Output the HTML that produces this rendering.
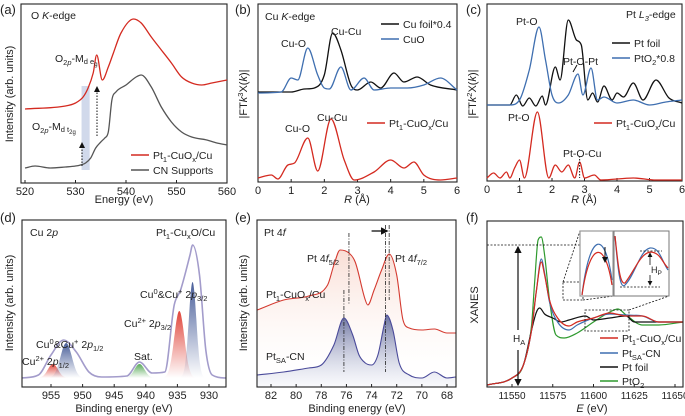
<!DOCTYPE html>
<html><head><meta charset="utf-8"><style>
body{margin:0;background:#fff}
svg{display:block;font-family:"Liberation Sans",sans-serif}
text{fill:#222}
</style></head><body>
<svg id="fig" width="685" height="416" viewBox="0 0 685 416" xmlns="http://www.w3.org/2000/svg">
<defs>
<linearGradient id="gRed" x1="0" y1="0" x2="0" y2="1"><stop offset="0" stop-color="#e0463c"/><stop offset="1" stop-color="#e0463c" stop-opacity="0"/></linearGradient>
<linearGradient id="gBlue" x1="0" y1="0" x2="0" y2="1"><stop offset="0" stop-color="#4a5f9a"/><stop offset="1" stop-color="#4a5f9a" stop-opacity="0"/></linearGradient>
<linearGradient id="gGreen" x1="0" y1="0" x2="0" y2="1"><stop offset="0" stop-color="#5aaa5a"/><stop offset="1" stop-color="#5aaa5a" stop-opacity="0"/></linearGradient>
<linearGradient id="gERed" x1="0" y1="0" x2="0" y2="1"><stop offset="0" stop-color="#f4c2b2" stop-opacity="0.55"/><stop offset="1" stop-color="#fff" stop-opacity="0"/></linearGradient>
<linearGradient id="gEBlue" x1="0" y1="0" x2="0" y2="1"><stop offset="0" stop-color="#3d4a86" stop-opacity="0.9"/><stop offset="1" stop-color="#b8bedb" stop-opacity="0.1"/></linearGradient>
<marker id="arr" markerWidth="6" markerHeight="6" refX="5" refY="3" orient="auto"><path d="M0,0L6,3L0,6z" fill="#111"/></marker>
</defs>
</svg>
<script>
// ---- panel (a) O K-edge ----
const aRedE=[520,528,530,531.5,532.5,533.5,534.2,535.3,536.5,537.5,539,541.5,543,545,547,549,551,553,555,557,560];
const aRedI=[74,77,80,86,95,110,128,103,116,130,150,164,160,146,133,120,106,100,98,100,103];
const aGreyE=[520,522,525,528,530,531,532,533,534,535,535.8,536.5,537.2,538,540,542,543,545,547,549,551,553,556,558,560];
const aGreyI=[15,17,15,16,17,18,20,25,35,41,45,51,83,91,98,106,108,96,76,61,51,46,43,40,38];
const aTicks=[520,530,540,550,560];
// ---- panel (b) Cu K-edge ----
const bCuOR=[0,0.7,1.0,1.2,1.5,1.8,2.0,2.15,2.5,2.8,3.2,3.5,4.0,4.5,5.0,5.5,6.0];
const bCuOI=[89,90,104,102,134,107,94,93,115,92,104,92,94,94,97,104,92];
const bFoilR=[0,1.0,1.4,1.7,2.0,2.25,2.5,2.8,3.0,3.4,3.7,4.1,4.4,4.8,5.2,6.0];
const bFoilI=[90,90,93,94,107,149,132,97,92,100,94,109,100,105,97,92];
const bPtR=[0,0.4,0.6,0.9,1.1,1.5,1.8,2.2,2.6,2.9,3.5,4.0,4.4,4.7,5.0,5.5,6.0];
const bPtI=[4,7,3,17,19,44,11,63,22,2,10,22,14,20,7,2,4];
const rTicks=[0,1,2,3,4,5,6];
// ---- panel (c) Pt L3-edge ----
const cPtO2R=[0,0.7,1.0,1.3,1.6,1.8,2.0,2.2,2.5,2.8,2.95,3.2,3.4,3.6,4.0,4.5,5.0,5.5,6.0];
const cPtO2I=[76,76,81,111,154,121,86,78,86,107,86,113,81,84,78,81,76,79,81];
const cFoilR=[0,0.7,0.9,1.1,1.3,1.5,1.7,1.8,2.1,2.25,2.5,2.75,2.9,3.1,3.25,3.4,3.6,3.85,4.0,4.2,4.5,4.8,5.2,5.6,6.0];
const cFoilI=[76,76,86,75,83,75,85,76,114,101,161,141,136,81,88,79,95,81,88,84,98,81,101,83,78];
const cPtR=[0,0.2,0.4,0.6,0.7,0.85,1.0,1.15,1.55,1.9,2.1,2.3,2.5,2.7,2.85,3.0,3.3,3.5,4.5,5.2,6.0];
const cPtI=[3,8,3,9,3,13,21,3,69,3,16,9,16,3,19,3,6,1,3,1,1];
// ---- panel (d) Cu 2p XPS ----
const dEnvBE=[959.6,957,955,953,951,949,947,943,941,939,937,935.5,934.5,933,932.6,931.5,930.5,929.5,927.3];
const dEnvI=[9,12,32,47,35,15,10,11,25,14,15,82,97,132,142,112,37,12,9];
const dPeakCenters=[954.7,952.6,941,934.7,932.6];
const dPeakHeights=[23,44,23,76,105];
const dPeakWidths=[0.8,0.9,0.8,0.8,0.6];
const dPeakColors=["url(#gRed)","url(#gBlue)","url(#gGreen)","url(#gRed)","url(#gBlue)"];
const dTicks=[955,950,945,940,935,930];
// ---- panel (e) Pt 4f XPS ----
const eRedBE=[83.1,81,79,77.5,77,76.5,75.8,75.3,74.5,74.3,73.8,73.2,72.6,72,71.5,71,70,69,68,67.3];
const eRedI=[77,87,91,102,122,137,134,125,87,82,97,117,133,112,67,59,57,58,54,54];
const eBlueBE=[83.1,81,79,78,77,76.2,75.5,75,74.5,74,73.5,73,72.8,72.3,71.8,71,70,69,68,67.3];
const eBlueI=[12,15,19,22,42,69,52,32,24,22,32,62,72,57,24,12,9,15,9,10];
const eTicks=[82,80,78,76,74,72,70,68];
// ---- panel (f) Pt L3 XANES ----
const fRedE=[11535,11550,11557,11562,11565,11568,11570,11573,11578,11585,11590,11600,11610,11620,11630,11640,11655];
const fRedI=[2,9,22,57,97,125,112,87,69,61,65,69,74,71,71,65,65];
const fBlueI=[2,9,22,57,97,128,114,85,65,57,62,69,73,72,71,65,65];
const fFoilE=[11535,11550,11557,11562,11565,11567,11570,11575,11580,11585,11595,11600,11610,11620,11625,11640,11655];
const fFoilI=[2,9,22,57,75,79,73,69,65,67,71,67,69,71,65,65,65];
const fPtO2E=[11535,11550,11557,11562,11564,11566,11568,11570,11573,11577,11582,11590,11600,11610,11615,11620,11630,11640,11655];
const fPtO2I=[2,9,22,62,107,147,150,132,87,52,49,54,65,75,78,72,62,62,65];
const fTicks=[11550,11575,11600,11625,11650];

const svg=document.getElementById('fig');
const NS="http://www.w3.org/2000/svg";
function el(tag,attrs,parent){const e=document.createElementNS(NS,tag);for(const k in attrs)e.setAttribute(k,attrs[k]);(parent||svg).appendChild(e);return e;}
function txt(x,y,html,size,name,anchor,parent){const t=el('text',{x:x,y:y,'font-size':size||10.5,'text-anchor':anchor||'start'},parent);t.innerHTML=html;


return t;}
function lin(d0,d1,r0,r1){return v=>r0+(v-d0)*(r1-r0)/(d1-d0);}
// monotone cubic (Fritsch-Carlson) in pixel space, no overshoot
function smooth(xs,ys,sx,sy){const p=xs.map((x,i)=>[sx(x),sy(ys[i])]);const n=p.length;
const d=[],m=[];for(let i=0;i<n-1;i++)d.push((p[i+1][1]-p[i][1])/(p[i+1][0]-p[i][0]));
for(let i=0;i<n;i++){if(i===0)m.push(d[0]);else if(i===n-1)m.push(d[n-2]);else m.push(d[i-1]*d[i]<=0?0:(d[i-1]+d[i])/2);}
for(let i=0;i<n-1;i++){if(d[i]===0){m[i]=0;m[i+1]=0;continue;}const a=m[i]/d[i],b=m[i+1]/d[i],s=a*a+b*b;if(s>9){const t=3/Math.sqrt(s);m[i]=t*a*d[i];m[i+1]=t*b*d[i];}}
let s=`M${p[0][0].toFixed(1)},${p[0][1].toFixed(1)}`;
for(let i=0;i<n-1;i++){const h=(p[i+1][0]-p[i][0])/3;
s+=`C${(p[i][0]+h).toFixed(1)},${(p[i][1]+m[i]*h).toFixed(1)} ${(p[i+1][0]-h).toFixed(1)},${(p[i+1][1]-m[i+1]*h).toFixed(1)} ${p[i+1][0].toFixed(1)},${p[i+1][1].toFixed(1)}`;}
return s;}
function curve(xs,ys,sx,sy,color,w,name){const p=el('path',{d:smooth(xs,ys,sx,sy),fill:'none',stroke:color,'stroke-width':w||1.3});


return p;}
function frame(x0,y0,x1,y1,ticks,sx,name,fs){const g=el('g',{});


el('rect',{x:x0,y:y0,width:x1-x0,height:y1-y0,fill:'none',stroke:'#222','stroke-width':1.1},g);
ticks.forEach(t=>{const x=sx(t);el('line',{x1:x,x2:x,y1:y1,y2:y1-3,stroke:'#222'},g);
txt(x,y1+12,String(t),fs||11,'x-tick-label','middle',g);});
return g;}
function ylabel(x,y,html,name){const t=txt(0,0,html,11,name,'middle');t.setAttribute('transform',`translate(${x},${y}) rotate(-90)`);return t;}
function legend(x,y,color,html,name){const l=el('line',{x1:x,x2:x+18,y1:y,y2:y,stroke:color,'stroke-width':1.6});


txt(x+22,y+4,html,10.5,name);}

// ===== (a) =====
{const sx=lin(520,560,25,227),sy=lin(0,179,183,4);
el('rect',{x:sx(531.2),y:86,width:sx(532.8)-sx(531.2),height:84,fill:'#c6cfe6',opacity:0.8});
frame(21,4,227,183,aTicks,sx,'panel-a-axes');
curve(aGreyE,aGreyI,sx,sy,'#555',1.3,'cn-supports-curve');
curve(aRedE,aRedI,sx,sy,'#d42a20',1.3,'pt1-cuox-cu-curve-a');
el('line',{x1:82,x2:82,y1:166,y2:143,stroke:'#111','stroke-dasharray':'1.5,1.5','marker-end':'url(#arr)'});
el('line',{x1:97,x2:97,y1:136,y2:87,stroke:'#111','stroke-dasharray':'1.5,1.5','marker-end':'url(#arr)'});
txt(31,19,'O <tspan font-style="italic">K</tspan>-edge',10.5,'panel-a-title');
txt(55,62,'O<tspan font-size="7.5" dy="3">2<tspan font-style="italic">p</tspan></tspan><tspan dy="-3">-M</tspan><tspan font-size="7.5" dy="2">d e</tspan><tspan font-size="6" dy="2">g</tspan>',10.5,'eg-annotation');
txt(32,130,'O<tspan font-size="7.5" dy="3">2<tspan font-style="italic">p</tspan></tspan><tspan dy="-3">-M</tspan><tspan font-size="7.5" dy="2">d t</tspan><tspan font-size="6" dy="2">2g</tspan>',10.5,'t2g-annotation');
legend(131,155,'#d42a20','Pt<tspan font-size="7.5" dy="3">1</tspan><tspan dy="-3">-CuO</tspan><tspan font-size="7.5" dy="3">x</tspan><tspan dy="-3">/Cu</tspan>','legend-pt1-cuox-cu-a');
legend(131,170,'#555','CN Supports','legend-cn-supports');
txt(124,203,'Energy (eV)',11,'x-axis-title-a','middle');
ylabel(13,94,'Intensity (arb. units)','y-axis-title-a');
txt(0,14,'(a)',13,'panel-label-a');}

// ===== (b) =====
{const sx=lin(0,6,258,457),sy=lin(0,178,182,4);
frame(258,4,457,182,rTicks,sx,'panel-b-axes');
curve(bFoilR,bFoilI,sx,sy,'#111',1.3,'cu-foil-curve');
curve(bCuOR,bCuOI,sx,sy,'#3f6fb0',1.3,'cuo-curve');
curve(bPtR,bPtI,sx,sy,'#d42a20',1.3,'pt1-cuox-cu-curve-b');
txt(265,20,'Cu <tspan font-style="italic">K</tspan>-edge',10.5,'panel-b-title');
txt(281,47,'Cu-O',10.5,'cu-o-label-top');txt(331,35,'Cu-Cu',10.5,'cu-cu-label-top');
txt(285,132,'Cu-O',10.5,'cu-o-label-bottom');txt(317,121,'Cu-Cu',10.5,'cu-cu-label-bottom');
legend(381,24,'#111','Cu foil*0.4','legend-cu-foil');
legend(381,39,'#3f6fb0','CuO','legend-cuo');
legend(367,123,'#d42a20','Pt<tspan font-size="7.5" dy="3">1</tspan><tspan dy="-3">-CuO</tspan><tspan font-size="7.5" dy="3">x</tspan><tspan dy="-3">/Cu</tspan>','legend-pt1-cuox-cu-b');
txt(357,203,'<tspan font-style="italic">R</tspan> (Å)',11,'x-axis-title-b','middle');
ylabel(247,94,'|FT<tspan font-style="italic">k</tspan><tspan font-size="7.5" dy="-4">3</tspan><tspan dy="4">X(</tspan><tspan font-style="italic">k</tspan>)|','y-axis-title-b');
txt(235,14,'(b)',13,'panel-label-b');}

// ===== (c) =====
{const sx=lin(0,6,487,682),sy=lin(0,177,181,4);
frame(487,4,682,181,rTicks,sx,'panel-c-axes');
curve(cFoilR,cFoilI,sx,sy,'#111',1.3,'pt-foil-curve-c');
curve(cPtO2R,cPtO2I,sx,sy,'#3f6fb0',1.3,'pto2-curve-c');
curve(cPtR,cPtI,sx,sy,'#d42a20',1.3,'pt1-cuox-cu-curve-c');
el('line',{x1:sx(2.85),x2:sx(2.85),y1:156,y2:178,stroke:'#111','stroke-dasharray':'1.5,1.5'});
el('line',{x1:577,x2:573,y1:65,y2:72,stroke:'#111'});
txt(626,18,'Pt <tspan font-style="italic">L</tspan><tspan font-size="7.5" dy="3" font-style="italic">3</tspan><tspan dy="-3">-edge</tspan>',10.5,'panel-c-title');
txt(516,25,'Pt-O',10.5,'pt-o-label-top');txt(563,65,'Pt-O-Pt',10.5,'pt-o-pt-label');
txt(508,121,'Pt-O',10.5,'pt-o-label-bottom');txt(563,157,'Pt-O-Cu',10.5,'pt-o-cu-label');
legend(612,43,'#111','Pt foil','legend-pt-foil-c');
legend(612,58,'#3f6fb0','PtO<tspan font-size="7.5" dy="3">2</tspan><tspan dy="-3">*0.8</tspan>','legend-pto2-c');
legend(594,123,'#d42a20','Pt<tspan font-size="7.5" dy="3">1</tspan><tspan dy="-3">-CuO</tspan><tspan font-size="7.5" dy="3">x</tspan><tspan dy="-3">/Cu</tspan>','legend-pt1-cuox-cu-c');
txt(584,203,'<tspan font-style="italic">R</tspan> (Å)',11,'x-axis-title-c','middle');
ylabel(476,94,'|FT<tspan font-style="italic">k</tspan><tspan font-size="7.5" dy="-4">2</tspan><tspan dy="4">X(</tspan><tspan font-style="italic">k</tspan>)|','y-axis-title-c');
txt(466,14,'(c)',13,'panel-label-c');}

// ===== (d) =====
{const sx=lin(955,930,51,209),sy=lin(0,167,387,220);const base=9;
dPeakCenters.forEach((c,i)=>{const xs=[],ys=[];for(let k=-3;k<=3.001;k+=0.25){xs.push(c+k*dPeakWidths[i]);ys.push(base+(dPeakHeights[i]-base)*Math.exp(-k*k/2));}
const d=smooth(xs,ys,sx,sy)+`L${sx(xs[xs.length-1])},${sy(base)}L${sx(xs[0])},${sy(base)}Z`;
const p=el('path',{d:d,fill:dPeakColors[i],stroke:'none'});

});
curve(dEnvBE,dEnvI,sx,sy,'#a39ccb',1.6,'envelope-fit-curve');
frame(22,220,226,387,dTicks,sx,'panel-d-axes');
txt(30,236,'Cu 2<tspan font-style="italic">p</tspan>',10.5,'panel-d-title');
txt(156,236,'Pt<tspan font-size="7.5" dy="3">1</tspan><tspan dy="-3">-Cu</tspan><tspan font-size="7.5" dy="3">x</tspan><tspan dy="-3">O/Cu</tspan>',10.5,'panel-d-sample');
txt(140,298,'Cu<tspan font-size="7.5" dy="-4">0</tspan><tspan dy="4">&amp;Cu</tspan><tspan font-size="7.5" dy="-4">+</tspan><tspan dy="4"> 2</tspan><tspan font-style="italic">p</tspan><tspan font-size="7.5" dy="3">3/2</tspan>',10.5,'cu0-2p32-label');
txt(124,327,'Cu<tspan font-size="7.5" dy="-4">2+</tspan><tspan dy="4"> 2</tspan><tspan font-style="italic">p</tspan><tspan font-size="7.5" dy="3">3/2</tspan>',10.5,'cu2-2p32-label');
txt(36,348,'Cu<tspan font-size="7.5" dy="-4">0</tspan><tspan dy="4">&amp;Cu</tspan><tspan font-size="7.5" dy="-4">+</tspan><tspan dy="4"> 2</tspan><tspan font-style="italic">p</tspan><tspan font-size="7.5" dy="3">1/2</tspan>',10.5,'cu0-2p12-label');
txt(134,360,'Sat.',10.5,'sat-label');
txt(22,365,'Cu<tspan font-size="7.5" dy="-4">2+</tspan><tspan dy="4"> 2</tspan><tspan font-style="italic">p</tspan><tspan font-size="7.5" dy="3">1/2</tspan>',10.5,'cu2-2p12-label');
txt(124,412,'Binding energy (eV)',11,'x-axis-title-d','middle');
ylabel(13,303,'Intensity (arb. units)','y-axis-title-d');
txt(0,222,'(d)',13,'panel-label-d');}

// ===== (e) =====
{const sx=lin(82,68,271,447),sy=lin(0,167,387,220);
const rp=smooth(eRedBE,eRedI,sx,sy)+`L${sx(67.3)},387L${sx(83.1)},387Z`;
el('path',{d:rp,fill:'url(#gERed)',stroke:'none'});
const bp=smooth(eBlueBE,eBlueI,sx,sy)+`L${sx(67.3)},387L${sx(83.1)},387Z`;
el('path',{d:bp,fill:'url(#gEBlue)',stroke:'none',opacity:0.85});
curve(eRedBE,eRedI,sx,sy,'#d43a30',1.1,'pt1-cuox-cu-curve-e');
curve(eBlueBE,eBlueI,sx,sy,'#4a4a9a',1.1,'ptsa-cn-curve-e');
[[75.8,233,305],[76.2,290,372],[72.6,225,300],[72.9,225,372]].forEach(v=>{el('line',{x1:sx(v[0]),x2:sx(v[0]),y1:v[1],y2:v[2],stroke:'#222','stroke-dasharray':'4,1.5,1,1.5','stroke-width':0.8});});
el('line',{x1:sx(74),x2:sx(72.75),y1:231,y2:231,stroke:'#111','stroke-width':1.3,'marker-end':'url(#arr)'});
frame(257,220,456,387,eTicks,sx,'panel-e-axes');
txt(264,236,'Pt 4<tspan font-style="italic">f</tspan>',10.5,'panel-e-title');
txt(307,262,'Pt 4<tspan font-style="italic">f</tspan><tspan font-size="7.5" dy="3">5/2</tspan>',10.5,'pt4f52-label');
txt(395,262,'Pt 4<tspan font-style="italic">f</tspan><tspan font-size="7.5" dy="3">7/2</tspan>',10.5,'pt4f72-label');
txt(266,298,'Pt<tspan font-size="7.5" dy="3">1</tspan><tspan dy="-3">-CuO</tspan><tspan font-size="7.5" dy="3">x</tspan><tspan dy="-3">/Cu</tspan>',10.5,'label-pt1-cuox-cu-e');
txt(266,360,'Pt<tspan font-size="7.5" dy="3">SA</tspan><tspan dy="-3">-CN</tspan>',10.5,'label-ptsa-cn-e');
txt(357,412,'Binding energy (eV)',11,'x-axis-title-e','middle');
ylabel(247,303,'Intensity (arb. units)','y-axis-title-e');
txt(235,222,'(e)',13,'panel-label-e');}

// ===== (f) =====
{const sx=lin(11550,11650,512,675),sy=lin(0,166,387,221);
curve(fPtO2E,fPtO2I,sx,sy,'#2e9a2e',1.2,'pto2-curve-f');
curve(fFoilE,fFoilI,sx,sy,'#111',1.2,'pt-foil-curve-f');
curve(fRedE,fBlueI,sx,sy,'#3f6fb0',1.2,'ptsa-cn-curve-f');
curve(fRedE,fRedI,sx,sy,'#d42a20',1.2,'pt1-cuox-cu-curve-f');
const dot={stroke:'#111','stroke-dasharray':'2,1.5','stroke-width':0.8,fill:'none'};
el('rect',Object.assign({x:563,y:282,width:20,height:18},dot));
el('rect',Object.assign({x:585,y:310,width:44,height:21},dot));
el('line',Object.assign({x1:487,x2:580,y1:245,y2:245},dot));
el('line',Object.assign({x1:563,x2:580,y1:282,y2:231},dot));
el('line',Object.assign({x1:583,x2:614,y1:300,y2:296},dot));
el('line',Object.assign({x1:629,x2:669,y1:310,y2:296},dot));
el('line',{x1:518,x2:518,y1:330,y2:247,stroke:'#111','stroke-width':1.2,'marker-end':'url(#arr)'});
el('line',{x1:518,x2:518,y1:350,y2:385,stroke:'#111','stroke-width':1.2,'marker-end':'url(#arr)'});
txt(513,342,'H<tspan font-size="7.5" dy="3">A</tspan>',10,'ha-label');
const ins=el('g',{});


el('rect',{x:580,y:231,width:33,height:65,fill:'#fff',stroke:'#999','stroke-width':1.2},ins);
el('rect',{x:614,y:231,width:55,height:65,fill:'#fff',stroke:'#777','stroke-width':1},ins);
el('path',{d:'M582,295 C590,230 605,230 612,280',fill:'none',stroke:'#3f6fb0','stroke-width':1.2},ins);
el('path',{d:'M582,295 C590,240 605,240 612,285',fill:'none',stroke:'#d42a20','stroke-width':1.2},ins);
el('line',{x1:605,x2:605,y1:247,y2:262,stroke:'#111','marker-end':'url(#arr)'},ins);
el('path',{d:'M615,236 C618,270 620,290 625,285 C635,275 640,250 650,248 C660,247 662,262 668,270',fill:'none',stroke:'#3f6fb0','stroke-width':1.2},ins);
el('path',{d:'M615,236 C618,265 620,285 625,283 C635,270 640,254 650,252 C660,252 662,262 668,268',fill:'none',stroke:'#d42a20','stroke-width':1.2},ins);
el('line',Object.assign({x1:620,x2:660,y1:287,y2:287},dot),ins);
el('line',Object.assign({x1:640,x2:662,y1:251,y2:251},dot),ins);
el('line',{x1:650,x2:650,y1:265,y2:253,stroke:'#111','stroke-width':0.8,'marker-end':'url(#arr)'},ins);
el('line',{x1:650,x2:650,y1:275,y2:285,stroke:'#111','stroke-width':0.8,'marker-end':'url(#arr)'},ins);
txt(651,273,'H<tspan font-size="6.5" dy="2">P</tspan>',9,'hp-label',null,ins);
frame(487,221,683,387,fTicks,sx,'panel-f-axes',10);
legend(600,338,'#d42a20','Pt<tspan font-size="7.5" dy="3">1</tspan><tspan dy="-3">-CuO</tspan><tspan font-size="7.5" dy="3">x</tspan><tspan dy="-3">/Cu</tspan>','legend-pt1-cuox-cu-f');
legend(600,353,'#3f6fb0','Pt<tspan font-size="7.5" dy="3">SA</tspan><tspan dy="-3">-CN</tspan>','legend-ptsa-cn-f');
legend(600,367,'#111','Pt foil','legend-pt-foil-f');
legend(600,381,'#2e9a2e','PtO<tspan font-size="7.5" dy="3">2</tspan>','legend-pto2-f');
txt(592,412,'<tspan font-style="italic">E</tspan> (eV)',11,'x-axis-title-f','middle');
ylabel(478,305,'XANES','y-axis-title-f');
txt(466,222,'(f)',13,'panel-label-f');}
</script>
</body></html>
